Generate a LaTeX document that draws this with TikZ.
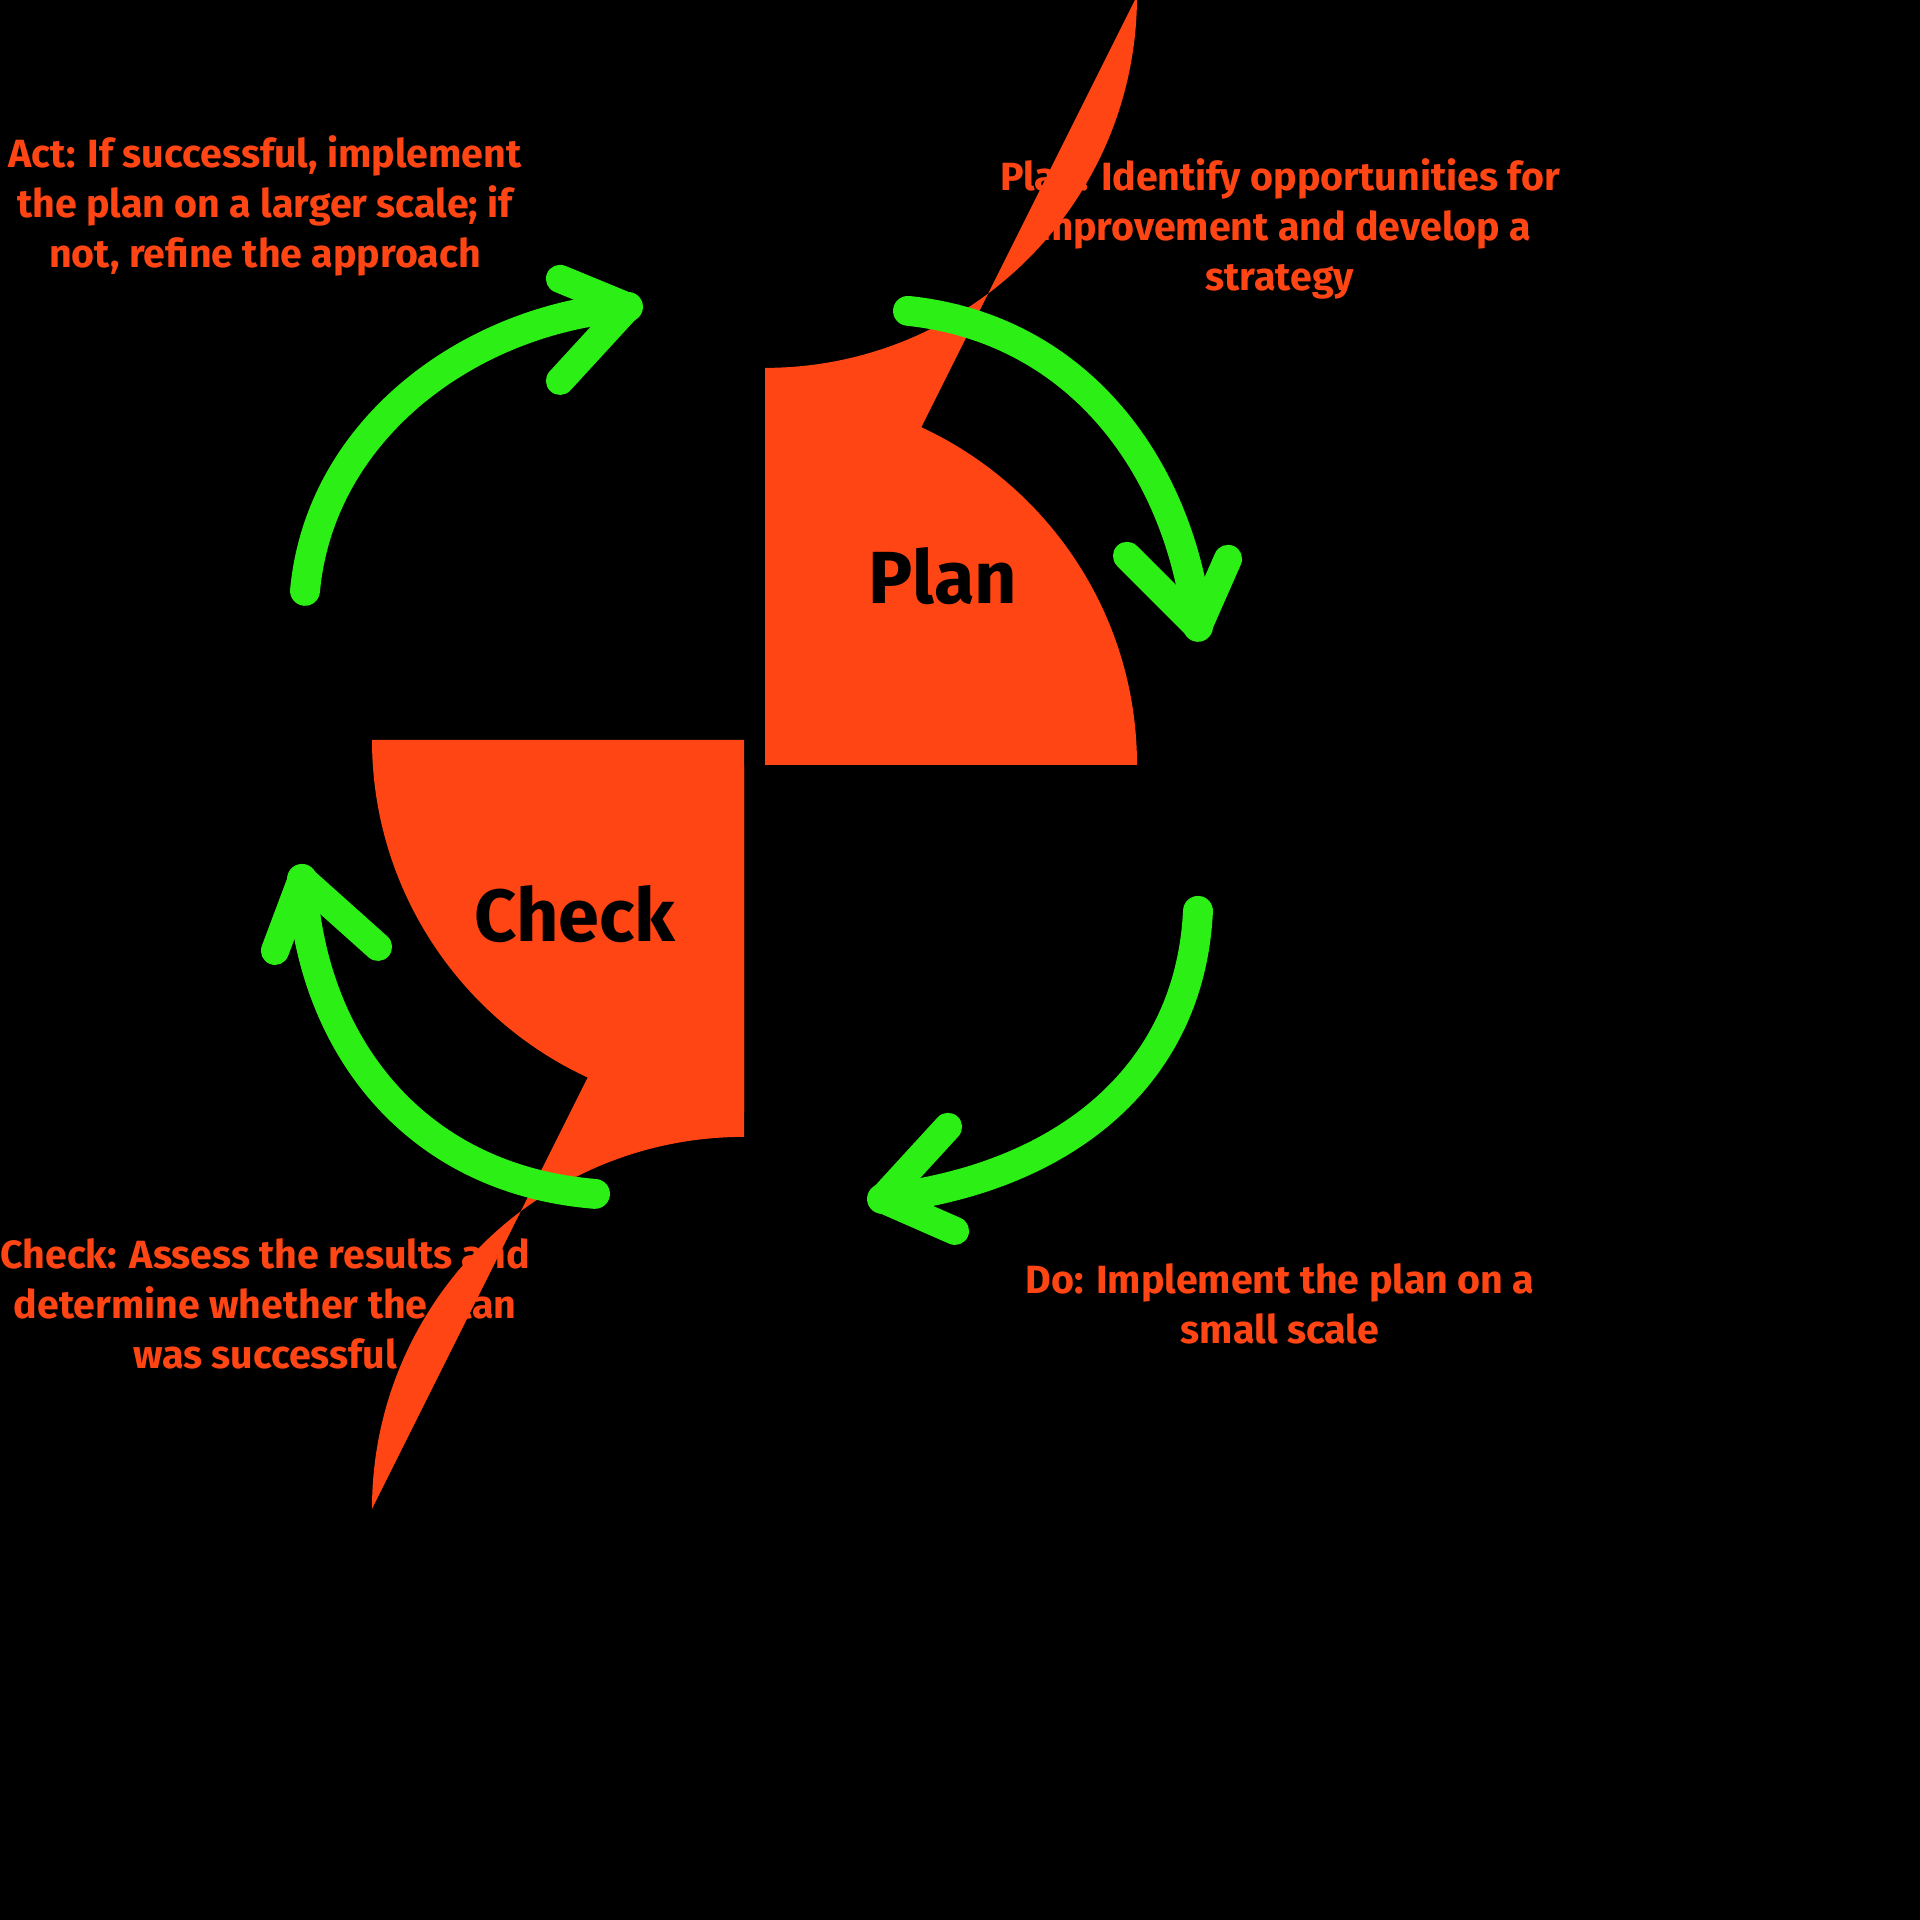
\documentclass[tikz,border=0pt]{standalone}
\usepackage{fontspec}
\setmainfont{Fira Sans}
\definecolor{org}{HTML}{FF4514}
\definecolor{grn}{HTML}{2CEF16}
\begin{document}
\begin{tikzpicture}[x=0.01cm,y=0.01cm,
  quad/.style={fill=org},
  big/.style={font=\fontsize{21}{24}\selectfont\bfseries,text=black},
  desc/.style={font=\fontsize{11.2}{14.2}\selectfont\bfseries,text=org,align=center},
  arr/.style={draw=grn,line width=8.5pt,line cap=round,line join=round},
  barb/.style={draw=grn,line width=8pt,line cap=round}]
\fill[black] (0,0) rectangle (1920,1920);
\useasboundingbox (0,0) rectangle (1920,1920);
\begin{scope}[yshift=19.2cm,yscale=-1]
% quadrants
\fill[quad] (765,741) -- (765,369) arc[start angle=90,end angle=0,radius=372] -- cycle;
\fill[quad] (744,741) -- (372,741) arc[start angle=180,end angle=90,radius=372] -- cycle;
\fill[quad] (744,766) -- (744,1138) arc[start angle=270,end angle=180,radius=372] -- cycle;
\fill[quad] (765,766) -- (1137,766) arc[start angle=0,end angle=-90,radius=372] -- cycle;
\node[big] (a) at (575,558) {Act};
\node[big] (p) at (943,577) {Plan};
\node[big] (c) at (575,915) {Check};
\node[big] (d) at (943,915) {Do};
% descriptions
\node[desc] (ta) at (265,207) {Act: If successful, implement\\the plan on a larger scale; if\\not, refine the approach};
\node[desc] (tp) at (1280,230) {Plan: Identify opportunities for\\improvement and develop a\\strategy};
\node[desc] (tc) at (265,1305) {Check: Assess the results and\\determine whether the plan\\was successful};
\node[desc] (td) at (1280,1305) {Do: Implement the plan on a\\small scale};
% arrows
\coordinate (a0) at (305,592); \coordinate (a1) at (628,308);
\draw[arr] (a0) .. controls (320,430) and (470,320) .. (a1);
\draw[barb] (a1) -- (560,280); \draw[barb] (a1) -- (560,382);
\coordinate (p0) at (908,312); \coordinate (p1) at (1198,628);
\draw[arr] (p0) .. controls (1080,330) and (1180,470) .. (p1);
\draw[barb] (p1) -- (1127,557); \draw[barb] (p1) -- (1228,560);
\coordinate (d0) at (1198,912); \coordinate (d1) at (882,1200);
\draw[arr] (d0) .. controls (1190,1080) and (1060,1180) .. (d1);
\draw[barb] (d1) -- (948,1128); \draw[barb] (d1) -- (955,1232);
\coordinate (c0) at (595,1195); \coordinate (c1) at (302,880);
\draw[arr] (c0) .. controls (410,1180) and (310,1040) .. (c1);
\draw[barb] (c1) -- (378,948); \draw[barb] (c1) -- (275,952);
\end{scope}
\end{tikzpicture}
\end{document}
